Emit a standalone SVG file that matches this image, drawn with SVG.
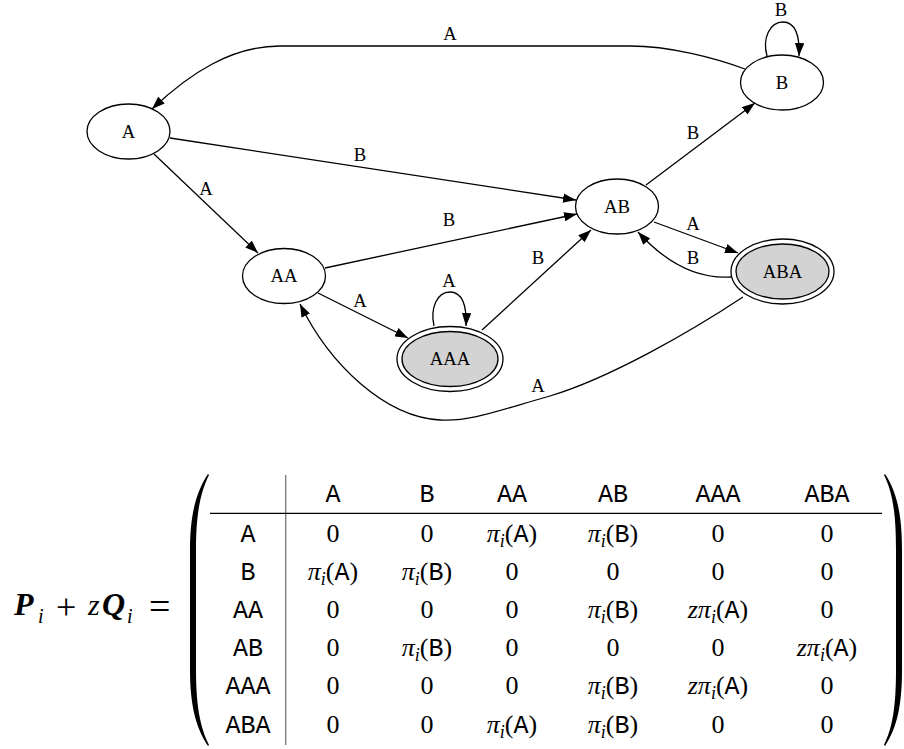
<svg xmlns="http://www.w3.org/2000/svg" width="904" height="749" viewBox="0 0 904 749">
<style>
.n ellipse{fill:none;stroke:#000;stroke-width:1.3}
.n ellipse.f{fill:#d3d3d3}
.nl{font-family:"Liberation Serif",serif;font-size:18.7px;text-anchor:middle;fill:#000}
.e path{fill:none;stroke:#000;stroke-width:1.3;marker-end:url(#arr)}
.m{font-family:"Liberation Serif",serif;font-size:26px;text-anchor:middle;fill:#000}
.tt{font-family:"Liberation Mono",monospace;font-size:25px}
.it{font-style:italic}
.sub{font-style:italic;font-size:18px}
.eq{font-family:"Liberation Serif",serif;fill:#000}
</style>
<defs>
<marker id="arr" markerUnits="userSpaceOnUse" viewBox="0 0 13 9.4" markerWidth="13" markerHeight="9.4" refX="13" refY="4.7" orient="auto"><path d="M0,0 L13,4.7 L0,9.4 z" fill="#000"/></marker>
</defs>
<g id="edges" class="e">
<path d="M745,69 C715,58 670,46 630,46 L280,46 C232,46 190,73 152,109"/>
<path d="M767,56 C762,38 770,22 783,22 C795,22 800,35 799,56"/>
<path d="M170,138 L576,200"/>
<path d="M154,154 L258,253"/>
<path d="M325,268 L577,214"/>
<path d="M318,293 L408,338"/>
<path d="M434,326 C430,308 437,292 450,292 C462,292 467,305 466,326"/>
<path d="M482,330 L591,230"/>
<path d="M646,185 L755,103"/>
<path d="M654,222 L738,253"/>
<path d="M731,277 C700,279 668,265 638,232"/>
<path d="M743,297 C690,332 610,378 550,396 C500,410 470,422 440,420 C385,417 330,365 300,304"/>
</g>
<g id="edge-labels" class="nl">
<text x="450" y="40">A</text>
<text x="781" y="16">B</text>
<text x="360" y="161">B</text>
<text x="206" y="195">A</text>
<text x="449" y="226">B</text>
<text x="360" y="307">A</text>
<text x="449" y="286.5">A</text>
<text x="538" y="264">B</text>
<text x="693" y="139">B</text>
<text x="693" y="230">A</text>
<text x="693" y="264">B</text>
<text x="538" y="391.5">A</text>
</g>
<g id="node-A" class="n"><ellipse cx="128.5" cy="131.5" rx="41.5" ry="27.5"/><text class="nl" x="128.5" y="137.5">A</text></g>
<g id="node-B" class="n"><ellipse cx="782" cy="82.5" rx="41.5" ry="27.5"/><text class="nl" x="782" y="88.5">B</text></g>
<g id="node-AB" class="n"><ellipse cx="617" cy="206.5" rx="41.5" ry="27.5"/><text class="nl" x="617" y="212.5">AB</text></g>
<g id="node-AA" class="n"><ellipse cx="284" cy="276" rx="41.5" ry="27.5"/><text class="nl" x="284" y="282">AA</text></g>
<g id="node-AAA" class="n"><ellipse class="f" cx="450" cy="359" rx="48" ry="27.5"/><ellipse cx="450" cy="359" rx="53" ry="32.5"/><text class="nl" x="450" y="365">AAA</text></g>
<g id="node-ABA" class="n"><ellipse class="f" cx="782.5" cy="271.5" rx="46.5" ry="27.5"/><ellipse cx="782.5" cy="271.5" rx="51.5" ry="32.5"/><text class="nl" x="782.5" y="277.5">ABA</text></g>
<g id="equation">
<text class="eq"><tspan x="14" y="615" font-size="32" font-weight="bold" font-style="italic">P</tspan><tspan x="38" y="623" font-size="20" font-style="italic">i</tspan><tspan x="56" y="619" font-size="36">+</tspan><tspan x="88" y="615" font-size="30" font-style="italic">z</tspan><tspan x="102" y="615" font-size="32" font-weight="bold" font-style="italic">Q</tspan><tspan x="127" y="623" font-size="20" font-style="italic">i</tspan><tspan x="149" y="619" font-size="38">=</tspan></text>
<path d="M208,474 C196,492 190,515 190,550 L190,670 C190,705 196,728 208,746 L209,745 C200,727 196,705 196,670 L196,550 C196,515 200,493 209,475 Z" fill="#000"/>
<path d="M885,474 C897,492 902,515 902,550 L902,670 C902,705 897,728 885,746 L884,745 C893,727 896,705 896,670 L896,550 C896,515 893,493 884,475 Z" fill="#000"/>
<line x1="285.7" y1="475" x2="285.7" y2="745" stroke="#777" stroke-width="1.3"/>
<line x1="210" y1="513.3" x2="882" y2="513.3" stroke="#000" stroke-width="1.3"/>
<g class="m">
<text class="tt" x="333" y="502">A</text><text class="tt" x="427" y="502">B</text><text class="tt" x="512" y="502">AA</text><text class="tt" x="613" y="502">AB</text><text class="tt" x="718" y="502">AAA</text><text class="tt" x="827" y="502">ABA</text>
<text class="tt" x="248" y="541.5">A</text>
<text x="333" y="541.5">0</text><text x="427" y="541.5">0</text>
<text x="512" y="541.5"><tspan class="it">π</tspan><tspan class="sub" dy="5">i</tspan><tspan dy="-5">(</tspan><tspan class="tt">A</tspan>)</text>
<text x="613" y="541.5"><tspan class="it">π</tspan><tspan class="sub" dy="5">i</tspan><tspan dy="-5">(</tspan><tspan class="tt">B</tspan>)</text>
<text x="718" y="541.5">0</text><text x="827" y="541.5">0</text>
<text class="tt" x="248" y="579.5">B</text>
<text x="333" y="579.5"><tspan class="it">π</tspan><tspan class="sub" dy="5">i</tspan><tspan dy="-5">(</tspan><tspan class="tt">A</tspan>)</text>
<text x="427" y="579.5"><tspan class="it">π</tspan><tspan class="sub" dy="5">i</tspan><tspan dy="-5">(</tspan><tspan class="tt">B</tspan>)</text>
<text x="512" y="579.5">0</text><text x="613" y="579.5">0</text><text x="718" y="579.5">0</text><text x="827" y="579.5">0</text>
<text class="tt" x="248" y="617.5">AA</text>
<text x="333" y="617.5">0</text><text x="427" y="617.5">0</text><text x="512" y="617.5">0</text>
<text x="613" y="617.5"><tspan class="it">π</tspan><tspan class="sub" dy="5">i</tspan><tspan dy="-5">(</tspan><tspan class="tt">B</tspan>)</text>
<text x="718" y="617.5"><tspan class="it">zπ</tspan><tspan class="sub" dy="5">i</tspan><tspan dy="-5">(</tspan><tspan class="tt">A</tspan>)</text>
<text x="827" y="617.5">0</text>
<text class="tt" x="248" y="656">AB</text>
<text x="333" y="656">0</text>
<text x="427" y="656"><tspan class="it">π</tspan><tspan class="sub" dy="5">i</tspan><tspan dy="-5">(</tspan><tspan class="tt">B</tspan>)</text>
<text x="512" y="656">0</text><text x="613" y="656">0</text><text x="718" y="656">0</text>
<text x="827" y="656"><tspan class="it">zπ</tspan><tspan class="sub" dy="5">i</tspan><tspan dy="-5">(</tspan><tspan class="tt">A</tspan>)</text>
<text class="tt" x="248" y="694">AAA</text>
<text x="333" y="694">0</text><text x="427" y="694">0</text><text x="512" y="694">0</text>
<text x="613" y="694"><tspan class="it">π</tspan><tspan class="sub" dy="5">i</tspan><tspan dy="-5">(</tspan><tspan class="tt">B</tspan>)</text>
<text x="718" y="694"><tspan class="it">zπ</tspan><tspan class="sub" dy="5">i</tspan><tspan dy="-5">(</tspan><tspan class="tt">A</tspan>)</text>
<text x="827" y="694">0</text>
<text class="tt" x="248" y="732.5">ABA</text>
<text x="333" y="732.5">0</text><text x="427" y="732.5">0</text>
<text x="512" y="732.5"><tspan class="it">π</tspan><tspan class="sub" dy="5">i</tspan><tspan dy="-5">(</tspan><tspan class="tt">A</tspan>)</text>
<text x="613" y="732.5"><tspan class="it">π</tspan><tspan class="sub" dy="5">i</tspan><tspan dy="-5">(</tspan><tspan class="tt">B</tspan>)</text>
<text x="718" y="732.5">0</text><text x="827" y="732.5">0</text>
</g>
</g>
</svg>
